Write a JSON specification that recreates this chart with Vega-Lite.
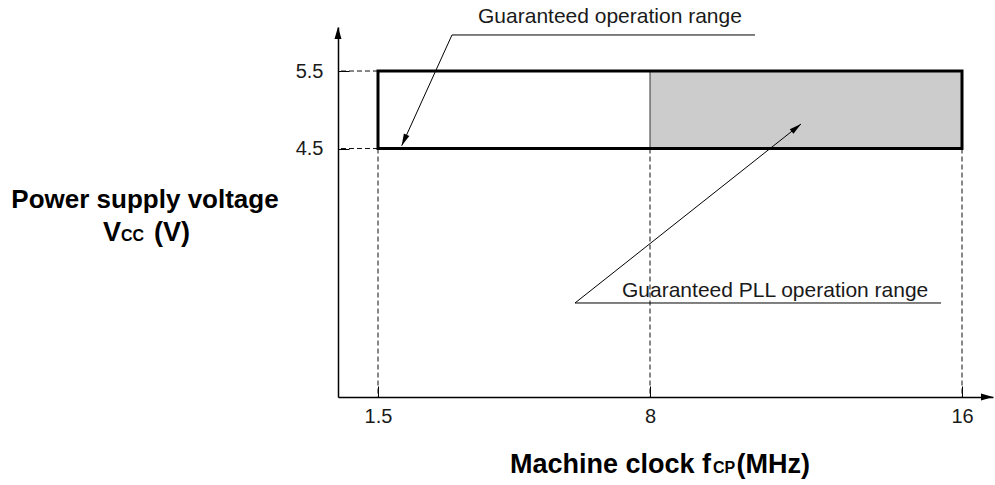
{
  "$schema": "https://vega.github.io/schema/vega-lite/v6.json",
  "width": 655,
  "height": 370,
  "autosize": {"type": "none"},
  "padding": {"left": 338, "top": 27, "right": 2, "bottom": 88},
  "background": "white",
  "config": {
    "view": {"stroke": null},
    "font": "Liberation Sans"
  },
  "datasets": {
    "ranges": [
      {"name": "Guaranteed operation range", "f": 1.5, "f2": 8, "v": 4.5, "v2": 5.5},
      {"name": "Guaranteed PLL operation range", "f": 8, "f2": 16, "v": 4.5, "v2": 5.5}
    ],
    "window": [{"f": 1.5, "f2": 16, "v": 4.5, "v2": 5.5}],
    "vguides": [{"f": 1.5, "v": 4.5}, {"f": 8, "v": 4.5}, {"f": 16, "v": 4.5}],
    "hguides": [{"f": 1.5, "v": 5.5}, {"f": 1.5, "v": 4.5}],
    "callouts": [
      {"callout": "op", "seq": 1, "f": 10.692, "v": 5.965},
      {"callout": "op", "seq": 2, "f": 3.268, "v": 5.965},
      {"callout": "op", "seq": 3, "f": 2.066, "v": 4.536},
      {"callout": "pll", "seq": 1, "f": 15.462, "v": 2.507},
      {"callout": "pll", "seq": 2, "f": 6.208, "v": 2.507},
      {"callout": "pll", "seq": 3, "f": 11.872, "v": 4.816}
    ],
    "tips": [
      {"callout": "op", "f": 2.066, "v": 4.536},
      {"callout": "pll", "f": 11.872, "v": 4.816}
    ],
    "axisends": [
      {"axis": "x", "f": 16.8, "v": 1.294},
      {"axis": "y", "f": 0, "v": 6.068}
    ],
    "labels": [
      {"text": "Guaranteed operation range", "f": 3.89, "v": 6.12},
      {"text": "Guaranteed PLL operation range", "f": 7.331, "v": 2.584}
    ],
    "titles": [
      {"part": "xmain", "text": "Machine clock f", "f": 4.654, "v": 0.313},
      {"part": "xsub", "text": "CP", "f": 9.615, "v": 0.313},
      {"part": "xunit", "text": "(MHz)", "f": 12.103, "v": 0.313},
      {"part": "ymain", "text": "Power supply voltage", "f": -7.237, "v": 3.733},
      {"part": "ysym", "text": "V", "f": -8.812, "v": 3.307},
      {"part": "ysub", "text": "CC", "f": -8.137, "v": 3.307},
      {"part": "yunit", "text": "(V)", "f": -5.55, "v": 3.307}
    ]
  },
  "encoding": {
    "x": {
      "field": "f",
      "type": "quantitative",
      "scale": {"domain": [0, 1.5, 8, 16, 16.8], "range": [0, 40, 312, 624, 655], "nice": false, "zero": false},
      "axis": {
        "values": [1.5, 8, 16], "format": "~g", "title": null, "grid": false,
        "domainColor": "black", "domainWidth": 1.5,
        "ticks": true, "tickColor": "black", "tickWidth": 1, "tickSize": -11,
        "labelFont": "Liberation Sans", "labelFontSize": 20, "labelColor": "#1a1a1a",
        "labelPadding": 20, "labelFlush": false, "labelOverlap": false
      }
    },
    "y": {
      "field": "v",
      "type": "quantitative",
      "scale": {"domain": [1.294, 6.068], "nice": false, "zero": false},
      "axis": {
        "values": [4.5, 5.5], "format": ".1f", "title": null, "grid": false,
        "domainColor": "black", "domainWidth": 1.5,
        "ticks": true, "tickColor": "black", "tickWidth": 1, "tickSize": -11,
        "labelFont": "Liberation Sans", "labelFontSize": 20, "labelColor": "#1a1a1a",
        "labelPadding": 26, "labelFlush": false, "labelOverlap": false
      }
    }
  },
  "layer": [
    {
      "data": {"name": "ranges"},
      "transform": [{"filter": "datum.name === 'Guaranteed PLL operation range'"}],
      "mark": {"type": "rect", "fill": "#cccccc", "strokeWidth": 0},
      "encoding": {"x2": {"field": "f2"}, "y2": {"field": "v2"}}
    },
    {
      "data": {"name": "vguides"},
      "mark": {"type": "rule", "color": "#111111", "strokeWidth": 1, "strokeDash": [5, 3]},
      "encoding": {"y2": {"datum": 1.294}}
    },
    {
      "data": {"name": "hguides"},
      "mark": {"type": "rule", "color": "#111111", "strokeWidth": 1, "strokeDash": [5, 3]},
      "encoding": {"x2": {"datum": 0}}
    },
    {
      "data": {"name": "ranges"},
      "transform": [{"filter": "datum.name === 'Guaranteed PLL operation range'"}],
      "mark": {"type": "rule", "color": "#333333", "strokeWidth": 1},
      "encoding": {"y2": {"field": "v2"}}
    },
    {
      "data": {"name": "window"},
      "mark": {"type": "rect", "fillOpacity": 0, "stroke": "black", "strokeWidth": 3},
      "encoding": {"x2": {"field": "f2"}, "y2": {"field": "v2"}}
    },
    {
      "data": {"name": "callouts"},
      "mark": {"type": "line", "color": "black", "strokeWidth": 1},
      "encoding": {"order": {"field": "seq", "type": "quantitative"}, "detail": {"field": "callout", "type": "nominal"}}
    },
    {
      "data": {"name": "tips"},
      "transform": [{"filter": "datum.callout === 'op'"}],
      "mark": {"type": "point", "shape": "M0,0L-0.3,1.2L0.3,1.2Z", "size": 400, "filled": true, "color": "black", "opacity": 1, "angle": 204.25}
    },
    {
      "data": {"name": "tips"},
      "transform": [{"filter": "datum.callout === 'pll'"}],
      "mark": {"type": "point", "shape": "M0,0L-0.3,1.2L0.3,1.2Z", "size": 400, "filled": true, "color": "black", "opacity": 1, "angle": 51.6}
    },
    {
      "data": {"name": "axisends"},
      "transform": [{"filter": "datum.axis === 'y'"}],
      "mark": {"type": "point", "shape": "M0,0L-0.35,1.2L0.35,1.2Z", "size": 400, "filled": true, "color": "black", "opacity": 1}
    },
    {
      "data": {"name": "axisends"},
      "transform": [{"filter": "datum.axis === 'x'"}],
      "mark": {"type": "point", "shape": "M0,0L-1.2,-0.35L-1.2,0.35Z", "size": 400, "filled": true, "color": "black", "opacity": 1}
    },
    {
      "data": {"name": "labels"},
      "mark": {"type": "text", "align": "left", "baseline": "alphabetic", "fontSize": 21, "color": "#1a1a1a", "font": "Liberation Sans"},
      "encoding": {"text": {"field": "text", "type": "nominal"}}
    },
    {
      "data": {"name": "titles"},
      "transform": [{"filter": "datum.part === 'xmain' || datum.part === 'ysym'"}],
      "mark": {"type": "text", "align": "left", "baseline": "alphabetic", "fontSize": 27, "fontWeight": "bold", "color": "black", "font": "Liberation Sans"},
      "encoding": {"text": {"field": "text", "type": "nominal"}}
    },
    {
      "data": {"name": "titles"},
      "transform": [{"filter": "datum.part === 'xunit' || datum.part === 'yunit'"}],
      "mark": {"type": "text", "align": "right", "baseline": "alphabetic", "fontSize": 27, "fontWeight": "bold", "color": "black", "font": "Liberation Sans"},
      "encoding": {"text": {"field": "text", "type": "nominal"}}
    },
    {
      "data": {"name": "titles"},
      "transform": [{"filter": "datum.part === 'ymain'"}],
      "mark": {"type": "text", "align": "center", "baseline": "alphabetic", "fontSize": 26, "fontWeight": "bold", "color": "black", "font": "Liberation Sans"},
      "encoding": {"text": {"field": "text", "type": "nominal"}}
    },
    {
      "data": {"name": "titles"},
      "transform": [{"filter": "datum.part === 'xsub' || datum.part === 'ysub'"}],
      "mark": {"type": "text", "align": "left", "baseline": "alphabetic", "fontSize": 16, "fontWeight": "bold", "color": "black", "font": "Liberation Sans"},
      "encoding": {"text": {"field": "text", "type": "nominal"}}
    }
  ]
}
